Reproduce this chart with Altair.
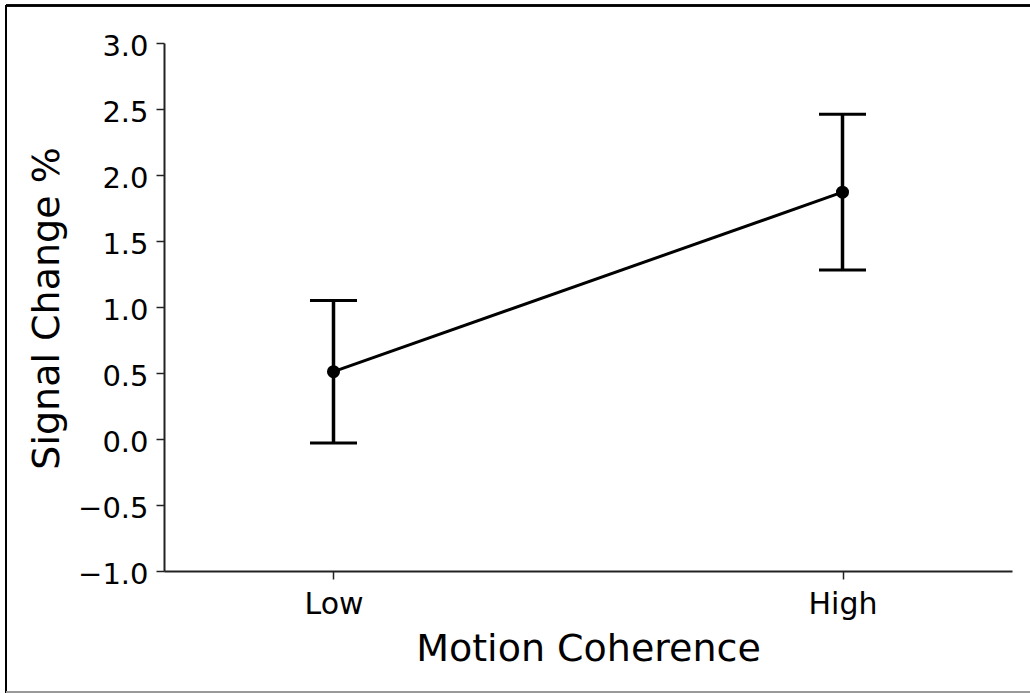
import altair as alt
import pandas as pd

conditions = ["Low", "High"]
means = [0.51, 1.87]
lower = [-0.03, 1.28]
upper = [1.05, 2.46]
y_ticks = [-1.0, -0.5, 0.0, 0.5, 1.0, 1.5, 2.0, 2.5, 3.0]

df = pd.DataFrame({"cond": conditions, "mean": means, "lo": lower, "hi": upper})

FONT = "DejaVu Sans"
W, H = 848, 528

x_enc = alt.X(
    "cond:N",
    sort=conditions,
    scale=alt.Scale(type="point", padding=0.333),
    axis=alt.Axis(
        title="Motion Coherence",
        labelAngle=0,
        labelFont=FONT, labelFontSize=30, labelColor="black", labelPadding=10,
        labelBaseline="top",
        tickSize=8, tickWidth=1.5, tickColor="#222",
        domainColor="#222", domainWidth=2,
        titleFont=FONT, titleFontSize=38, titleFontWeight="normal", titleColor="black",
        titleBaseline="alphabetic", titleY=89, titleX=W / 2, titleAlign="center",
        grid=False,
    ),
)

y_scale = alt.Scale(domain=[-1, 3], nice=False, zero=False)
y_axis = alt.Axis(
    title="Signal Change %",
    values=y_ticks, format=".1f",
    labelFont=FONT, labelFontSize=29, labelColor="black", labelPadding=8,
    labelOffset=3,
    tickSize=8, tickWidth=1.5, tickColor="#222",
    domainColor="#222", domainWidth=2,
    titleFont=FONT, titleFontSize=38, titleFontWeight="normal", titleColor="black",
    titleAngle=270, titleBaseline="alphabetic", titleAlign="center",
    titleX=-106, titleY=H / 2 + 1,
    grid=False,
)

base = alt.Chart(df).encode(x=x_enc)

line = base.mark_line(color="black", strokeWidth=3).encode(
    y=alt.Y("mean:Q", scale=y_scale, axis=y_axis)
)
rules = base.mark_rule(color="black", strokeWidth=3.5).encode(
    y=alt.Y("lo:Q", scale=y_scale), y2="hi:Q"
)
cap_lo = base.mark_tick(color="black", thickness=3, size=47, opacity=1).encode(
    y=alt.Y("lo:Q", scale=y_scale)
)
cap_hi = base.mark_tick(color="black", thickness=3, size=47, opacity=1).encode(
    y=alt.Y("hi:Q", scale=y_scale)
)
points = base.mark_circle(color="black", size=170, opacity=1).encode(
    y=alt.Y("mean:Q", scale=y_scale)
)

# decorative outer frame of the figure
frame_top = alt.Chart(df).mark_rule(color="black", strokeWidth=2.5).encode(
    x=alt.value(-158), x2=alt.value(870), y=alt.value(-37.5)
)
frame_left = alt.Chart(df).mark_rule(color="black", strokeWidth=2).encode(
    x=alt.value(-158), y=alt.value(-38), y2=alt.value(650)
)
frame_bottom = alt.Chart(df).mark_rule(color="#999", strokeWidth=2).encode(
    x=alt.value(-158), x2=alt.value(870), y=alt.value(649)
)

chart = (
    alt.layer(line, rules, cap_lo, cap_hi, points, frame_top, frame_left, frame_bottom)
    .properties(
        width=W, height=H,
        autosize=alt.AutoSizeParams(type="none"),
        padding={"left": 164, "top": 43, "right": 18, "bottom": 122},
        background="white",
    )
    .configure_view(stroke=None)
)

chart.save("out.html", embed_options={"renderer": "svg", "actions": False})
